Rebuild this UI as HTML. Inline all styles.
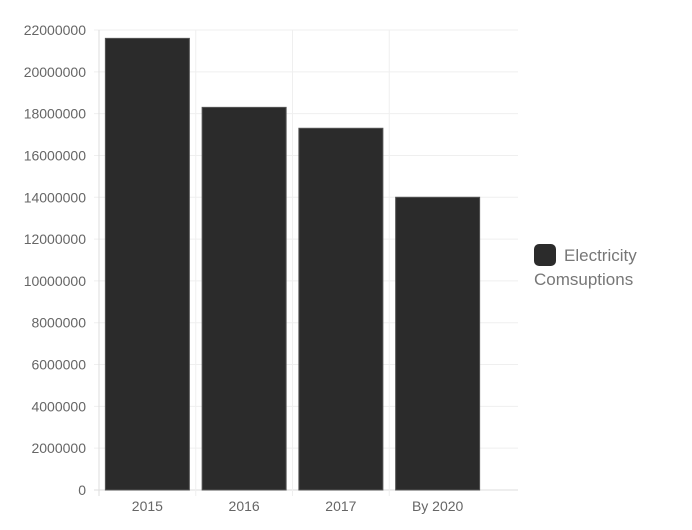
<!DOCTYPE html>
<html><head><meta charset="utf-8"><style>
html,body{margin:0;padding:0;background:#fff;width:692px;height:530px;overflow:hidden;font-family:"Liberation Sans",sans-serif}
</style></head><body>
<svg id="chart" width="692" height="530" xmlns="http://www.w3.org/2000/svg"></svg>
<div style="position:absolute;left:534px;top:244px;width:150px;font-size:17px;color:#777;line-height:24px">
<span style="display:inline-block;width:22px;height:22px;background:#2b2b2b;border-radius:5px;vertical-align:-5px;margin-right:8px"></span><span>Electricity Comsuptions</span>
</div>
<script>
const categories = ["2015","2016","2017","By 2020"];
const values = [21600000,18300000,17300000,14000000];
const yTicks = [0,2000000,4000000,6000000,8000000,10000000,12000000,14000000,16000000,18000000,20000000,22000000];
const NS="http://www.w3.org/2000/svg";
const svg=document.getElementById('chart');
const x0=99,x1=518,y0=490,y1=30,yMax=22000000,catW=96.75,barW=84;
const y=v=>y0-(v/yMax)*(y0-y1);
const xc=i=>x0+catW*(i+0.5);
function mk(tag,attrs){const e=document.createElementNS(NS,tag);for(const k in attrs)e.setAttribute(k,attrs[k]);svg.appendChild(e);return e;}
yTicks.forEach(t=>{
  const l=mk('line',{x1:x0-5,x2:x1,y1:y(t),y2:y(t),stroke:t===0?'#ddd':'#efefef','stroke-width':1});
  
  
  const tx=mk('text',{x:86,y:y(t)+5,'text-anchor':'end','font-size':14,fill:'#666'});
  tx.textContent=t;
  
  
});
for(let i=0;i<=categories.length;i++){
  if(i===categories.length)break;
  const gx=x0+catW*i;
  const g=mk('line',{x1:gx,x2:gx,y1:y1,y2:y0+6,stroke:i===0?'#ddd':'#efefef','stroke-width':1});
  
  
}
categories.forEach((c,i)=>{
  const b=mk('rect',{x:xc(i)-barW/2,y:y(values[i]),width:barW,height:y0-y(values[i]),fill:'#2b2b2b',stroke:'#555','stroke-width':1});
  
  
  const t=mk('text',{x:xc(i),y:511,'text-anchor':'middle','font-size':14,fill:'#666'});
  t.textContent=c;
  
  
});
</script>
</body></html>
